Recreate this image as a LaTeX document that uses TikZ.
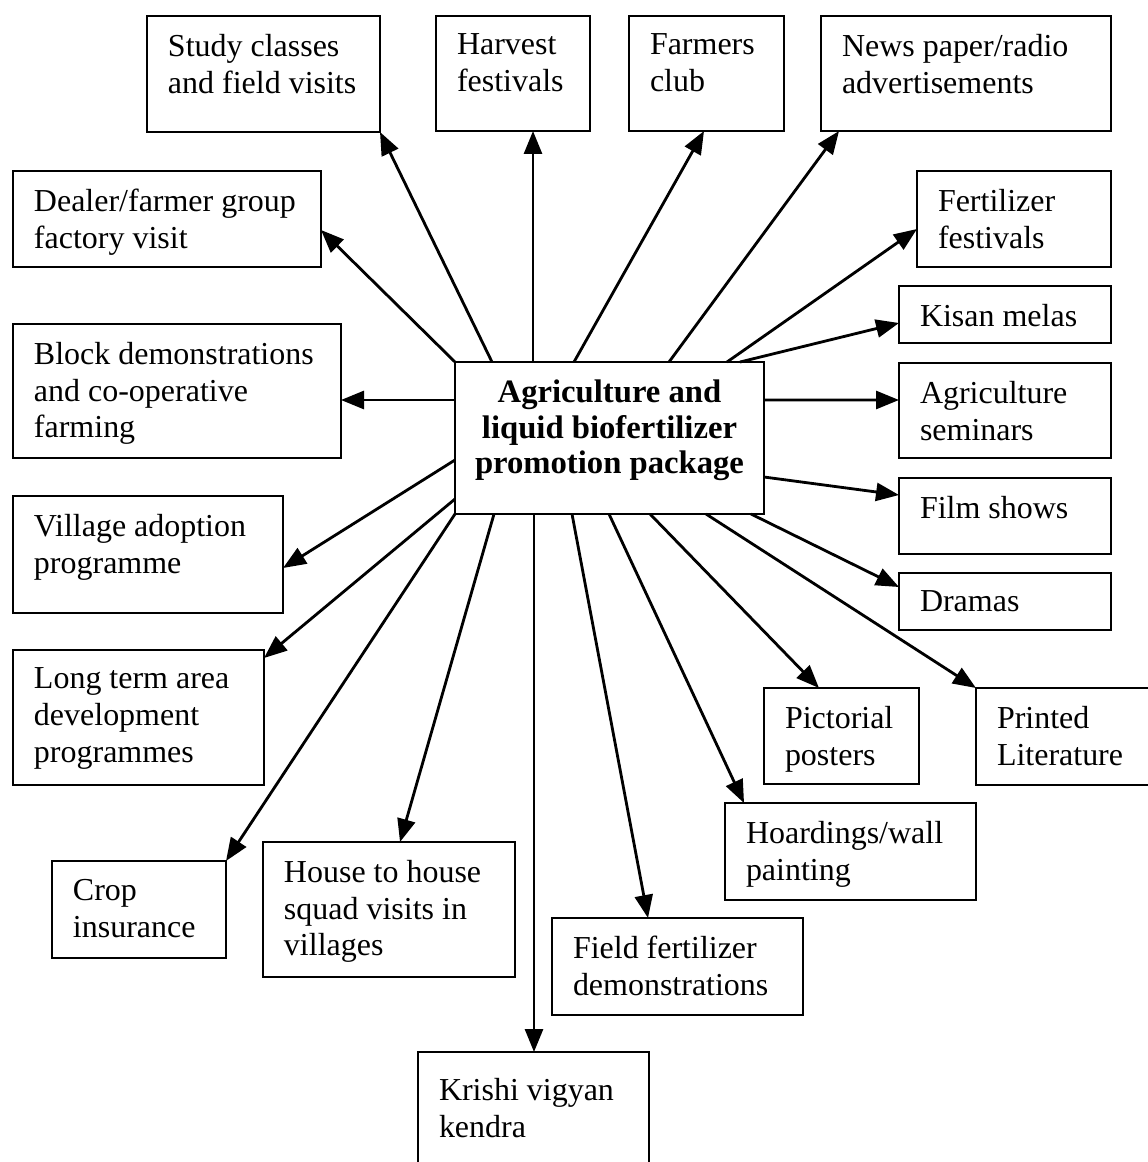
\documentclass[tikz,border=0pt]{standalone}
\usepackage{fontspec}
\setmainfont{Liberation Serif}
\usetikzlibrary{positioning,arrows.meta,calc,fit}

\begin{document}
\begin{tikzpicture}[x=0.02cm, y=-0.02cm,
  box/.style={draw, line width=1.6pt, inner sep=0pt, outer sep=0pt},
  txt/.style={anchor=north west, align=left, inner sep=0pt, outer sep=0pt,
    xshift=0.42cm, yshift=-0.36cm, font=\fontsize{18.2}{21}\selectfont},
  hubtxt/.style={anchor=center, align=center, inner sep=0pt, yshift=0.15cm,
    font=\fontsize{18.6}{20.2}\selectfont\bfseries},
  arr/.style={line width=1.6pt, -{Triangle[length=0.46cm, width=0.36cm]}}]
  \useasboundingbox (0,0) rectangle (1148,1162);
  \clip (0,0) rectangle (1148,1162);

  % centre box
  \node[box, fit={(455,362) (764,514)},
    label={[hubtxt]center:{Agriculture and\\liquid biofertilizer\\promotion package}}] (hub) {};

  % top row
  \node[box, fit={(147,16) (380,132)}, label={[txt]north west:{Study classes\\and field visits}}] (study) {};
  \node[box, fit={(436,16) (590,131)}, label={[txt]north west:{Harvest\\festivals}}] (harvest) {};
  \node[box, fit={(629,16) (784,131)}, label={[txt]north west:{Farmers\\club}}] (farmers) {};
  \node[box, fit={(821,16) (1111,131)}, label={[txt]north west:{News paper/radio\\advertisements}}] (news) {};

  % left column
  \node[box, fit={(13,171) (321,267)}, label={[txt]north west:{Dealer/farmer group\\factory visit}}] (dealer) {};
  \node[box, fit={(13,324) (341,458)}, label={[txt]north west:{Block demonstrations\\and co-operative\\farming}}] (block) {};
  \node[box, fit={(13,496) (283,613)}, label={[txt]north west:{Village adoption\\programme}}] (village) {};
  \node[box, fit={(13,650) (264,785)}, label={[txt]north west:{Long term area\\development\\programmes}}] (long) {};

  % right column
  \node[box, fit={(917,171) (1111,267)}, label={[txt]north west:{Fertilizer\\festivals}}] (fert) {};
  \node[box, fit={(899,286) (1111,343)}, label={[txt]north west:{Kisan melas}}] (kisan) {};
  \node[box, fit={(899,363) (1111,458)}, label={[txt]north west:{Agriculture\\seminars}}] (agri) {};
  \node[box, fit={(899,478) (1111,554)}, label={[txt]north west:{Film shows}}] (film) {};
  \node[box, fit={(899,573) (1111,630)}, label={[txt]north west:{Dramas}}] (dramas) {};

  % bottom part
  \node[box, fit={(764,688) (919,784)}, label={[txt]north west:{Pictorial\\posters}}] (pict) {};
  \node[box, fit={(976,688) (1160,785)}, label={[txt]north west:{Printed\\Literature}}] (printed) {};
  \node[box, fit={(725,803) (976,900)}, label={[txt]north west:{Hoardings/wall\\painting}}] (hoard) {};
  \node[box, fit={(52,861) (226,958)}, label={[txt]north west:{Crop\\insurance}}] (crop) {};
  \node[box, fit={(263,842) (515,977)}, label={[txt]north west:{House to house\\squad visits in\\villages}}] (house) {};
  \node[box, fit={(552,918) (803,1015)}, label={[txt]north west:{Field fertilizer\\demonstrations}}] (field) {};
  \node[box, fit={(418,1052) (649,1180)}, label={[txt, yshift=-0.16cm]north west:{Krishi vigyan\\kendra}}] (krishi) {};

  % arrows out of the centre box
  \draw[arr] (hub.north west) -- ($(dealer.north east)+(0,59)$);
  \draw[arr] ($(hub.north west)+(37,0)$) -- (study.south east);
  \draw[arr] ($(hub.north west)+(78,0)$) -- ($(harvest.south west)+(97,0)$);
  \draw[arr] ($(hub.north west)+(119,0)$) -- ($(farmers.south west)+(75,0)$);
  \draw[arr] ($(hub.north west)+(214,0)$) -- ($(news.south west)+(18,0)$);
  \draw[arr] ($(hub.north west)+(272,0)$) -- ($(fert.north west)+(0,58)$);
  \draw[arr] ($(hub.north west)+(285,0)$) -- ($(kisan.north west)+(0,37)$);
  \draw[arr] ($(hub.north west)+(0,38)$) -- ($(block.north east)+(0,76)$);
  \draw[arr] ($(hub.north west)+(0,98)$) -- ($(village.north east)+(0,72)$);
  \draw[arr] ($(hub.north west)+(0,137)$) -- ($(long.north east)+(0,8)$);
  \draw[arr] ($(hub.north east)+(0,38)$) -- ($(agri.north west)+(0,37)$);
  \draw[arr] ($(hub.north east)+(0,115)$) -- ($(film.north west)+(0,17)$);
  \draw[arr] (hub.south west) -- (crop.north east);
  \draw[arr] ($(hub.south west)+(39,0)$) -- ($(house.north west)+(137,0)$);
  \draw[arr] ($(hub.south west)+(79,0)$) -- ($(krishi.north west)+(116,0)$);
  \draw[arr] ($(hub.south west)+(117,0)$) -- ($(field.north west)+(96,0)$);
  \draw[arr] ($(hub.south west)+(154,0)$) -- ($(hoard.north west)+(19,0)$);
  \draw[arr] ($(hub.south west)+(195,0)$) -- ($(pict.north west)+(55,0)$);
  \draw[arr] ($(hub.south west)+(251,0)$) -- (printed.north west);
  \draw[arr] ($(hub.south west)+(296,0)$) -- ($(dramas.north west)+(0,14)$);
\end{tikzpicture}
\end{document}
